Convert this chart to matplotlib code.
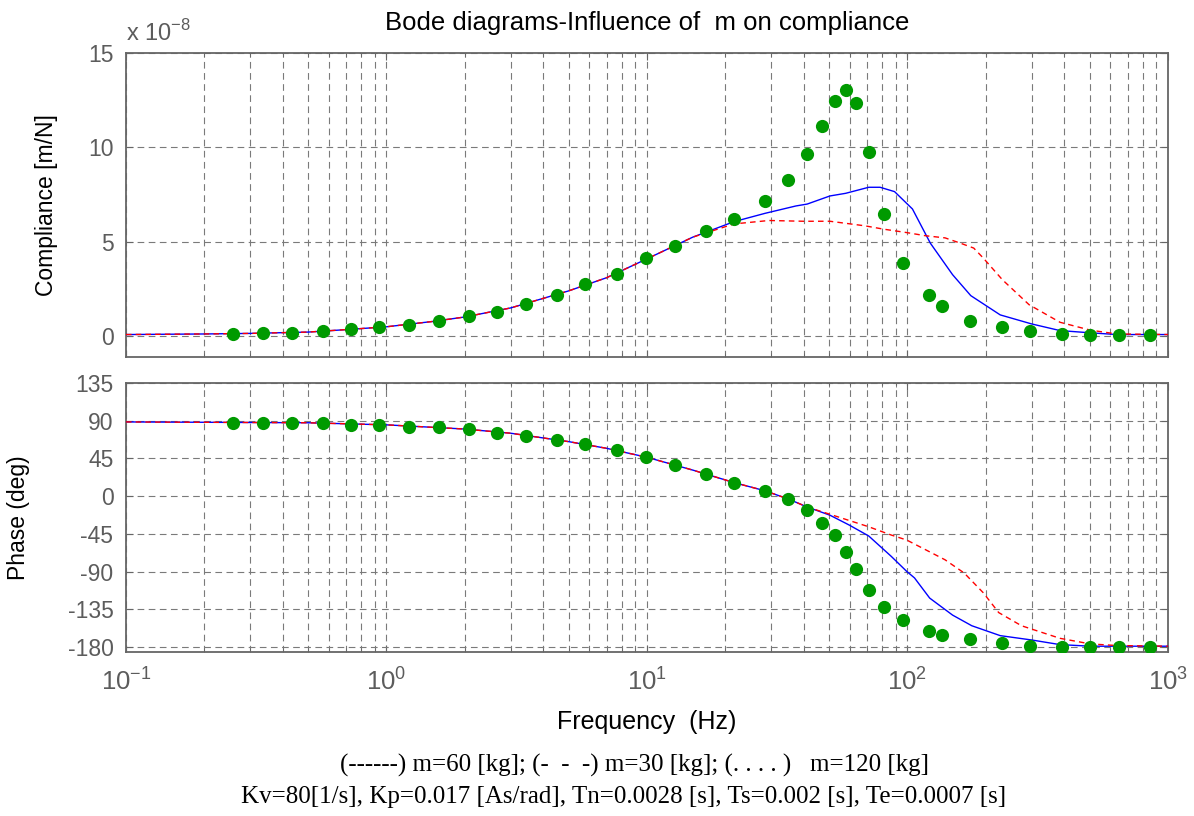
import numpy as np
import matplotlib
matplotlib.use('Agg')
import matplotlib.pyplot as plt
from matplotlib.ticker import LogLocator, FixedLocator, NullFormatter


### DATA ###

# Measured points for m=120 kg (green dots)
freq_dots = [0.257, 0.337, 0.432, 0.570, 0.728, 0.936, 1.225, 1.585, 2.08, 2.65, 3.42, 4.5, 5.78,
    7.7, 9.9, 12.8, 16.8, 21.6, 28.4, 34.9, 41.1, 47.1, 52.9, 58.1, 63.7, 71.4, 81.6, 96.1,
    121, 136, 174, 230, 296, 391, 501, 647, 854]
mag_m120 = [0.14, 0.16, 0.16, 0.26, 0.37, 0.48, 0.62, 0.83, 1.06, 1.27, 1.73, 2.18, 2.75,
    3.31, 4.12, 4.79, 5.58, 6.23, 7.15, 8.27, 9.63, 11.11, 12.48, 13.03, 12.36, 9.75, 6.48, 3.87,
    2.18, 1.62, 0.83, 0.48, 0.26, 0.14, 0.04, 0.04, 0.04]
phase_m120 = [87, 87, 87, 87.4, 85, 85, 81.9, 81.9, 79.5, 74.8, 72, 67, 62.2,
    54.7, 46.5, 36.6, 26.4, 16.1, 6.3, -3.5, -16.9, -31.9, -46.5, -67.3, -87.4, -112.6, -132.7, -148,
    -160.6, -165.7, -170.8, -175.6, -178.3, -180, -180, -180, -180]

# m=60 kg (solid blue), compliance
freq_mag_m60 = [0.1, 0.2, 0.3, 0.5, 0.7, 1.0, 1.5, 2.0, 3.0, 5.0, 7.0, 10, 15, 21.6, 28.4, 37.3,
    41.2, 50.4, 57.9, 71, 78.5, 89.2, 104.5, 122.4, 149, 175, 227, 300, 385, 504, 637, 1000]
mag_m60 = [0.09, 0.12, 0.15, 0.22, 0.35, 0.5, 0.78, 1.02, 1.5, 2.4, 3.1, 4.1, 5.25, 6.07, 6.51, 6.9,
    7.0, 7.43, 7.57, 7.89, 7.89, 7.66, 6.74, 4.93, 3.26, 2.15, 1.13, 0.65, 0.30, 0.18, 0.09, 0.09]

# m=30 kg (dashed red), compliance
freq_mag_m30 = [0.1, 0.2, 0.3, 0.5, 0.7, 1.0, 1.5, 2.0, 3.0, 5.0, 7.0, 10, 15, 21.6, 29.4, 39.9,
    50.4, 68.5, 81.1, 99.3, 117.7, 139.4, 159.6, 179.6, 195.5, 231.5, 293, 385, 504, 637, 1000]
mag_m30 = [0.09, 0.12, 0.15, 0.22, 0.35, 0.5, 0.78, 1.02, 1.5, 2.4, 3.1, 4.1, 5.25, 5.95, 6.13, 6.09,
    6.09, 5.85, 5.67, 5.49, 5.32, 5.21, 4.93, 4.67, 4.14, 2.99, 1.67, 0.74, 0.32, 0.12, 0.09]

# m=60 kg (solid blue), phase
freq_ph_m60 = [0.1, 0.5, 1.0, 2.0, 3.0, 5.0, 7.0, 10, 15, 21.6, 28.4, 34.9, 41.2, 50.4, 59.8, 71,
    86.7, 99.3, 106.4, 121.7, 149, 176.6, 227, 300, 385, 504, 1000]
ph_m60 = [88.5, 87.5, 85, 80, 75, 65, 57, 46.3, 31, 16.1, 6.3, -3.5, -13, -22.8, -34.6, -47.6,
    -72, -89.8, -97.6, -121.7, -142, -154.7, -166.5, -171.7, -177.2, -179.1, -179.1]

# m=30 kg (dashed red), phase
freq_ph_m30 = [0.1, 0.5, 1.0, 2.0, 3.0, 5.0, 7.0, 10, 15, 21.6, 28.4, 34.9, 41.2, 50.4, 71, 86.7,
    99.3, 117.7, 139.4, 165, 195.5, 224, 274, 385, 504, 637, 1000]
ph_m30 = [88.5, 87.5, 85, 80, 75, 65, 57, 46.3, 31, 16.1, 6.3, -3.5, -13, -21.7, -36.6, -46.5,
    -52.4, -64.2, -76, -91.7, -115.4, -139, -154.7, -169.7, -176.4, -178.3, -179.1]

mag_ticks = [0, 5, 10, 15]
phase_ticks = [-180, -135, -90, -45, 0, 45, 90, 135]
x_ticks = [0.1, 1, 10, 100, 1000]
x_tick_labels = [r'$\mathregular{10^{-1}}$', r'$\mathregular{10^{0}}$', r'$\mathregular{10^{1}}$',
    r'$\mathregular{10^{2}}$', r'$\mathregular{10^{3}}$']


### STYLE ###

plt.rcParams['font.family'] = ['Liberation Sans', 'DejaVu Sans']
plt.rcParams['mathtext.fontset'] = 'custom'
plt.rcParams['mathtext.rm'] = 'Liberation Sans'
plt.rcParams['axes.unicode_minus'] = False

axis_color = '#666666'
grid_color = '#7a7a7a'
label_gray = '#5c5c5c'
dot_color = '#009a00'
serif = ['Liberation Serif', 'DejaVu Serif']


def styleAxes(ax, yticks, ylim):
    """ MATLAB-like look: gray frame, dashed grid on major and minor x ticks. """

    ax.set_xscale('log')
    ax.set_xlim(0.1, 1000)
    ax.set_ylim(*ylim)
    ax.set_yticks(yticks)

    ax.xaxis.set_major_locator(FixedLocator(x_ticks))
    ax.xaxis.set_minor_locator(LogLocator(base=10, subs=np.arange(2, 10), numticks=20))
    ax.xaxis.set_minor_formatter(NullFormatter())

    ax.grid(True, which='major', axis='both', color=grid_color, linestyle=(0, (6, 4)), linewidth=0.8)
    ax.grid(True, which='minor', axis='x', color=grid_color, linestyle=(0, (6, 4)), linewidth=0.8)

    for sp in ax.spines.values():
        sp.set_color(axis_color)
        sp.set_linewidth(1.3)

    ax.tick_params(which='both', direction='in', top=True, right=True, color=axis_color,
        labelcolor=label_gray, labelsize=16.5)
    ax.tick_params(axis='y', which='major', pad=9)
    ax.tick_params(which='major', length=5)
    ax.tick_params(which='minor', length=3)
    ax.set_axisbelow(True)


fig = plt.figure(figsize=(11.94, 8.16), dpi=100, facecolor='white')

ax_mag = fig.add_axes([0.1055, 0.5625, 0.8727, 0.3725])
ax_ph = fig.add_axes([0.1055, 0.201, 0.8727, 0.3297])

styleAxes(ax_mag, mag_ticks, (-1.1, 15))
styleAxes(ax_ph, phase_ticks, (-186, 135))


### Compliance ###
ax_mag.plot(freq_mag_m60, mag_m60, color='blue', linewidth=1.0, zorder=3)
ax_mag.plot(freq_mag_m30, mag_m30, color='red', linewidth=1.0, linestyle=(0, (4, 3)), zorder=3)
ax_mag.plot(freq_dots, mag_m120, linestyle='none', marker='o', markersize=9.5,
    color=dot_color, markeredgewidth=0, zorder=4)

ax_mag.set_xticklabels([])
ax_mag.set_ylabel('Compliance [m/N]', fontsize=16.5, va='center')
ax_mag.yaxis.set_label_coords(-0.076, 0.5)
ax_mag.text(0.0, 1.025, r'x 10$^{\mathregular{-8}}$', transform=ax_mag.transAxes, fontsize=17,
    color=label_gray, ha='left', va='bottom')


### Phase ###
ax_ph.plot(freq_ph_m60, ph_m60, color='blue', linewidth=1.0, zorder=3)
ax_ph.plot(freq_ph_m30, ph_m30, color='red', linewidth=1.0, linestyle=(0, (4, 3)), zorder=3)
ax_ph.plot(freq_dots, phase_m120, linestyle='none', marker='o', markersize=9.5,
    color=dot_color, markeredgewidth=0, zorder=4)

ax_ph.set_xticklabels(x_tick_labels, fontsize=18.5)
ax_ph.tick_params(axis='x', which='major', pad=12)
ax_ph.set_ylabel('Phase (deg)', fontsize=16.5, va='center')
ax_ph.yaxis.set_label_coords(-0.103, 0.5)
ax_ph.set_xlabel('Frequency  (Hz)', fontsize=18, labelpad=10)


### Titles and captions ###
fig.text(0.542, 0.972, 'Bode diagrams-Influence of  m on compliance', fontsize=18.5, ha='center',
    va='center')

fig.text(0.531, 0.062, '(------) m=60 [kg]; (-  -  -) m=30 [kg]; (. . . . )   m=120 [kg]',
    family=serif, fontsize=18, ha='center', va='center')
fig.text(0.522, 0.023, 'Kv=80[1/s], Kp=0.017 [As/rad], Tn=0.0028 [s], Ts=0.002 [s], Te=0.0007 [s]',
    family=serif, fontsize=18, ha='center', va='center')

plt.savefig('out.png', dpi=100, facecolor=fig.get_facecolor())
plt.close()
